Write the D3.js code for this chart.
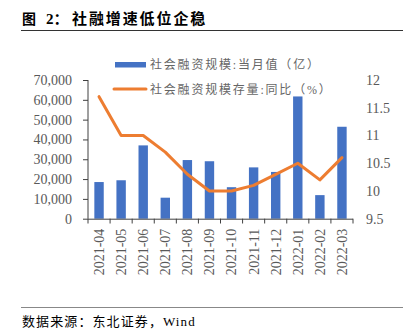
<!DOCTYPE html>
<html><head><meta charset="utf-8">
<script src="https://cdn.jsdelivr.net/npm/d3@7"></script>
<style>
html,body{margin:0;padding:0;background:#fff;}
svg{display:block;}
</style></head>
<body>
<svg id="c" width="413" height="330"></svg>
<script>
const categories = ["2021-04","2021-05","2021-06","2021-07","2021-08","2021-09","2021-10","2021-11","2021-12","2022-01","2022-02","2022-03"];
const monthlyValues = [18500,19400,37000,10600,29600,29000,15900,25900,23600,61700,11900,46400];
const yoyValues = [11.7,11.0,11.0,10.7,10.3,10.0,10.0,10.1,10.3,10.5,10.2,10.6];
const leftTicks = [0,10000,20000,30000,40000,50000,60000,70000];
const rightTicks = [9.5,10,10.5,11,11.5,12];
const seriesNames = ["社会融资规模:当月值（亿）","社会融资规模存量:同比（%）"];
const titleNum = "图";
const titleIdx = "2：";
const titleText = "社融增速低位企稳";
const sourceText = "数据来源：东北证券，Wind";

const svg = d3.select("#c");
const serif = "Liberation Serif, Noto Sans CJK SC, serif";
const cjk = "Liberation Serif, Noto Sans CJK SC, sans-serif";
const gray = "#595959";

const x = d3.scaleBand().domain(categories).range([88,353]).padding(0);
const yL = d3.scaleLinear().domain([0,70000]).range([218.7,80]);
const yR = d3.scaleLinear().domain([9.5,12]).range([218.7,80]);

// Title
svg.append("text").attr("x",22).attr("y",24).attr("font-family",cjk).attr("font-weight","bold")
  .attr("font-size",14).attr("fill","#000").text(titleNum);
svg.append("text").attr("x",46).attr("y",24).attr("font-family",cjk).attr("font-weight","bold")
  .attr("font-size",15).attr("fill","#000").text(titleIdx);
svg.append("text").attr("x",72).attr("y",24).attr("font-family",cjk).attr("font-weight","bold")
  .attr("font-size",15).attr("letter-spacing","1.9px").attr("fill","#000").text(titleText);
svg.append("line").attr("x1",21).attr("x2",403).attr("y1",30.5).attr("y2",30.5).attr("stroke","#333").attr("stroke-width",1);

// Bars
const bw = 9.4;
svg.append("g").selectAll("rect").data(monthlyValues).join("rect")
  .attr("x",(d,i)=>x(categories[i])+x.bandwidth()/2-bw/2)
  .attr("y",d=>yL(d))
  .attr("width",bw)
  .attr("height",d=>yL(0)-yL(d))
  .attr("fill","#4472C4");

// Left axis
const gL = svg.append("g").attr("transform","translate(88,0)")
  .call(d3.axisLeft(yL).tickValues(leftTicks).tickSize(5).tickPadding(11).tickFormat(d3.format(",")));
gL.select(".domain").attr("stroke","#404040").attr("d","M0,218.7V80");
gL.selectAll(".tick line").attr("stroke","#404040");
gL.selectAll("text").attr("font-family",serif).attr("font-size",14).attr("fill",gray);

// Right axis (labels only)
const gR = svg.append("g").attr("transform","translate(353,0)")
  .call(d3.axisRight(yR).tickValues(rightTicks).tickSize(0).tickPadding(13).tickFormat(d=>String(d)));
gR.select(".domain").remove();
gR.selectAll("text").attr("font-family",serif).attr("font-size",14).attr("fill",gray);

// X axis
const gX = svg.append("g").attr("transform","translate(0,218.7)")
  .call(d3.axisBottom(x).tickSize(0).tickPadding(0));
gX.select(".domain").attr("stroke","#404040").attr("d","M88,0.5H353");
gX.selectAll(".tick text")
  .attr("transform","translate(0,10) rotate(-90)")
  .attr("text-anchor","end").attr("dy","0.35em").attr("x",0).attr("y",0)
  .attr("font-family",serif).attr("font-size",14).attr("fill",gray);
// boundary tick marks
const bounds = categories.map(c=>x(c)).concat([x.range()[1]]);
svg.append("g").selectAll("line").data(bounds).join("line")
  .attr("x1",d=>d).attr("x2",d=>d).attr("y1",218.7).attr("y2",223.5)
  .attr("stroke","#404040").attr("stroke-width",1);

// Line
const line = d3.line().x((d,i)=>x(categories[i])+x.bandwidth()/2).y(d=>yR(d));
svg.append("path").datum(yoyValues).attr("d",line).attr("fill","none")
  .attr("stroke","#ED7D31").attr("stroke-width",3).attr("stroke-linejoin","round").attr("stroke-linecap","round");

// Legend
svg.append("rect").attr("x",115).attr("y",62).attr("width",31).attr("height",5.5).attr("fill","#4472C4");
svg.append("text").attr("x",150).attr("y",68.5).attr("font-family",cjk).attr("font-size",12)
  .attr("letter-spacing","1.8px").attr("fill","#666").text(seriesNames[0]);
svg.append("line").attr("x1",114).attr("x2",146).attr("y1",89).attr("y2",89)
  .attr("stroke","#ED7D31").attr("stroke-width",3).attr("stroke-linecap","round");
svg.append("text").attr("x",150).attr("y",94).attr("font-family",cjk).attr("font-size",12)
  .attr("letter-spacing","1.8px").attr("fill","#666").text(seriesNames[1]);

// Source
svg.append("line").attr("x1",21).attr("x2",403).attr("y1",307.5).attr("y2",307.5).attr("stroke","#888").attr("stroke-width",1);
svg.append("text").attr("x",22).attr("y",326).attr("font-family",cjk).attr("font-size",13)
  .attr("letter-spacing","1.1px").attr("fill","#000").text(sourceText);
</script>
</body></html>
